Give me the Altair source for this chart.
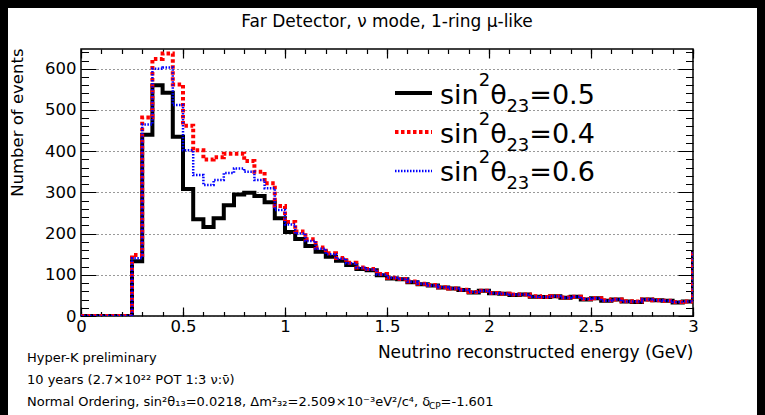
import altair as alt
import pandas as pd

# ---------------- data ----------------
# bin left edges, 0.05 GeV binning (the last bin starts at 3.0 GeV, beyond the shown range)
energy_edges = [round(0.05 * i, 2) for i in range(62)]

counts_05 = [0, 0, 0, 0, 0, 133, 440, 560, 542, 435,
             308, 235, 216, 237, 269, 295, 299, 291, 276, 237,
             204, 187, 170, 156, 144, 134, 124, 114, 111, 99,
             91, 89, 82, 77, 74, 69, 67, 63, 57, 61,
             55, 54, 51, 52, 47, 46, 48, 44, 47, 40,
             43, 37, 40, 35, 34, 40, 38, 37, 33, 35, 155]
counts_04 = [0, 0, 0, 0, 0, 148, 482, 624, 637, 562,
             462, 402, 380, 385, 394, 394, 376, 350, 322, 267,
             228, 205, 186, 166, 152, 141, 129, 118, 114, 102,
             93, 90, 84, 78, 75, 70, 67, 64, 58, 61,
             56, 54, 52, 52, 48, 46, 48, 45, 47, 41,
             43, 38, 40, 36, 35, 40, 38, 37, 34, 35, 160]
counts_06 = [0, 0, 0, 0, 0, 140, 465, 600, 603, 512,
             402, 342, 318, 330, 347, 358, 350, 330, 310, 257,
             222, 200, 182, 163, 150, 139, 128, 117, 113, 101,
             93, 90, 83, 78, 74, 70, 67, 63, 58, 61,
             55, 54, 52, 52, 47, 46, 48, 44, 47, 41,
             43, 37, 40, 35, 35, 40, 38, 37, 34, 35, 158]

x_major = [0, 0.5, 1, 1.5, 2, 2.5, 3]
x_minor = [round(0.1 * i, 1) for i in range(31)]
y_major = [0, 100, 200, 300, 400, 500, 600]
y_minor = [20 * i for i in range(33)]

# legend labels: (base, superscript, greek, subscript, value)
legend_values = ["0.5", "0.4", "0.6"]
title_text = "Far Detector, ν mode, 1-ring μ-like"
x_title = "Neutrino reconstructed energy (GeV)"
y_title = "Number of events"
info_1 = "Hyper-K preliminary"
info_2 = "10 years (2.7×10²² POT 1:3 ν:ν̄)"
info_3a = "Normal Ordering, sin²θ₁₃=0.0218, Δm²₃₂=2.509×10⁻³eV²/c⁴, δ"
info_3b = "CP"
info_3c = "=-1.601"


def hist_df(counts):
    rows = [{"E": energy_edges[i], "N": counts[i]} for i in range(len(counts))]
    rows.append({"E": energy_edges[len(counts)], "N": counts[-1]})
    return pd.DataFrame(rows)


df05, df04, df06 = hist_df(counts_05), hist_df(counts_04), hist_df(counts_06)

# ---------------- layout ----------------
FONT = "DejaVu Sans"
W, H = 612, 267
PAD = {"left": 81, "top": 49, "right": 72, "bottom": 99}

x_scale = alt.Scale(domain=[0, 3], nice=False, zero=False)
y_scale = alt.Scale(domain=[0, 648], nice=False, zero=False)

# DejaVu Sans advance widths (em) used to place composed text pieces
DV = {" ": .318, ",": .318, ".": .318, "-": .361, "=": .838, "N": .748, "o": .612, "r": .411,
      "m": .974, "a": .613, "l": .278, "O": .787, "d": .635, "e": .615, "i": .278, "n": .634,
      "g": .635, "s": .521, "²": .401, "³": .401, "⁴": .401, "⁻": .401, "₁": .401, "₂": .401,
      "₃": .401, "θ": .602, "Δ": .684, "×": .838, "V": .684, "/": .337, "c": .550, "δ": .612,
      "C": .698, "P": .603}


def tw(s, size):
    return sum(DV.get(ch, .636) for ch in s) * size


def tick_axis(orient, offset, values, size, width=1.0):
    return alt.Axis(orient=orient, offset=offset, values=values, labels=False, domain=False,
                    grid=False, ticks=True, tickSize=size, tickColor="black", tickWidth=width,
                    title=None)


def line_layer(df, color, width, dash, xaxis, yaxis, opacity=1.0):
    kw = dict(interpolate="step-after", clip=True, color=color, strokeWidth=width,
              strokeCap="butt", strokeJoin="miter", opacity=opacity)
    if dash:
        kw["strokeDash"] = dash
    return alt.Chart(df).mark_line(**kw).encode(
        x=alt.X("E:Q", scale=x_scale, axis=xaxis),
        y=alt.Y("N:Q", scale=y_scale, axis=yaxis),
    )


def text_layer(txt, x, y, size, align="left", baseline="alphabetic", font=FONT):
    return alt.Chart(alt.Data(values=[{"t": txt}])).mark_text(
        align=align, baseline=baseline, fontSize=size, font=font, color="black"
    ).encode(x=alt.value(x), y=alt.value(y), text="t:N")


def rich_text(pieces, x, y):
    """pieces: list of (text, size, dy) placed one after another from x."""
    out = []
    for txt, size, dy in pieces:
        out.append(text_layer(txt, x, y + dy, size))
        x += tw(txt, size)
    return out


def rect_layer(x1, x2, y1, y2, color="black"):
    return alt.Chart(alt.Data(values=[{"a": 1}])).mark_rect(color=color).encode(
        x=alt.value(x1), x2=alt.value(x2), y=alt.value(y1), y2=alt.value(y2))


def rule_layer(x1, x2, y, color, width, dash):
    kw = dict(color=color, strokeWidth=width, strokeCap="butt")
    if dash:
        kw["strokeDash"] = dash
    return alt.Chart(alt.Data(values=[{"a": 1}])).mark_rule(**kw).encode(
        x=alt.value(x1), x2=alt.value(x2), y=alt.value(y))


label_x_axis = alt.Axis(orient="bottom", values=x_major, format="~g", ticks=False, tickSize=0,
                        domain=False, grid=False, labelFont=FONT, labelFontSize=16.5,
                        labelColor="black", labelPadding=2, labelFlush=False, labelOverlap=False,
                        title=x_title, titleFont=FONT, titleFontSize=17, titleFontWeight="normal",
                        titleColor="black", titleAnchor="end", titleAlign="right",
                        titleBaseline="alphabetic", titleX=W, titleY=41)
label_y_axis = alt.Axis(orient="left", values=y_major, format="d", ticks=False, tickSize=0,
                        domain=False, grid=True, gridColor="#333333", gridDash=[1, 3],
                        gridWidth=1, labelFont=FONT, labelFontSize=16.5, labelColor="black",
                        labelPadding=5, labelBaseline="middle", labelFlush=False, labelOverlap=False,
                        title=y_title, titleFont=FONT, titleFontSize=16.5, titleFontWeight="normal",
                        titleColor="black", titleAngle=270, titleAlign="right",
                        titleBaseline="middle", titleX=-63.5, titleY=-1)

layers = [
    # ghost layers carrying the minor ticks
    line_layer(df05, "black", 1, None, tick_axis("top", -H, x_minor, 4.5, 1.2),
               tick_axis("right", -W, y_minor, 7.5), opacity=0),
    line_layer(df05, "black", 1, None, tick_axis("bottom", -H, x_minor, 4.5, 1.2),
               tick_axis("left", -W, y_minor, 7.5), opacity=0),
    # histograms
    line_layer(df05, "black", 4, None, label_x_axis, label_y_axis),
    line_layer(df04, "#ff0000", 4, [3.5, 2.5], tick_axis("top", -H, x_major, 9, 1.2),
               tick_axis("right", -W, y_major, 15)),
    line_layer(df06, "#0000ff", 2.5, [1.5, 1.5], tick_axis("bottom", -H, x_major, 9, 1.2),
               tick_axis("left", -W, y_major, 15)),
]

# legend (top right, inside the frame)
leg_line_x1, leg_line_x2, leg_text_x = 314, 351, 359
leg_styles = [("black", 4, None), ("#ff0000", 4, [3.5, 2.5]), ("#0000ff", 2.5, [1.5, 1.5])]
leg_line_y = [44, 83, 122]
leg_text_y = [55, 94, 132]
for val, (col, wd, ds), ly, ty in zip(legend_values, leg_styles, leg_line_y, leg_text_y):
    layers.append(rule_layer(leg_line_x1, leg_line_x2, ly, col, wd, ds))
    layers += rich_text([("sin", 27, 0), ("2", 18, -18), ("θ", 27, 0), ("23", 18, 8),
                         ("=" + val, 27, 0)], leg_text_x, ty)

# title and info texts
layers.append(text_layer(title_text, W / 2, -22, 17, align="center"))
layers.append(text_layer(info_1, -54, 313, 13))
layers.append(text_layer(info_2, -54, 335, 13))
layers += rich_text([(info_3a, 13, 0), (info_3b, 9, 3), (info_3c, 13, 0)], -54, 357)

# dark screen border around the canvas
layers.append(rect_layer(-81, -73, -49, 366))
layers.append(rect_layer(-81, 684, -49, -41))
layers.append(rect_layer(676, 684, -49, 366))

chart = alt.layer(*layers).resolve_axis(x="independent", y="independent").properties(
    width=W, height=H, padding=PAD, autosize=alt.AutoSizeParams(type="none"),
    background="white",
).configure_view(stroke="black", strokeWidth=1.5)

chart.save("out.html", embed_options={"renderer": "svg", "actions": False})
